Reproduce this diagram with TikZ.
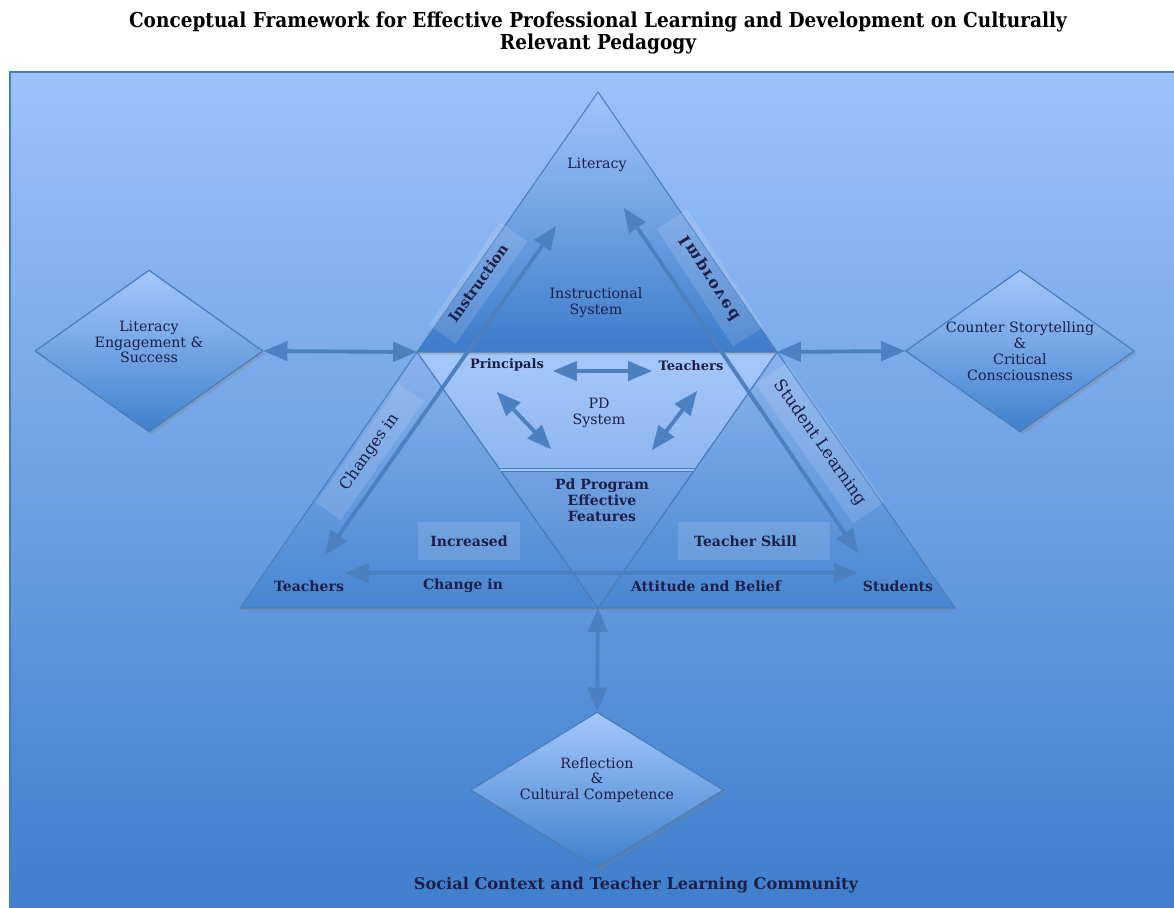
\documentclass[tikz,border=0pt]{standalone}
\usepackage{fontspec}
\setmainfont{DejaVu Serif}
\newfontfamily\condfont{DejaVu Serif Condensed}
\usepackage{tikz}
\usetikzlibrary{shapes.geometric}
\usetikzlibrary{arrows}
\usetikzlibrary{shadows}

\definecolor{bgtop}{HTML}{9CC2FA}
\definecolor{bgbot}{HTML}{3E7ECC}
\definecolor{edge}{HTML}{4A7EBB}
\definecolor{arr}{HTML}{4D80C0}
\definecolor{ink}{HTML}{1E1E46}
\definecolor{trtop}{HTML}{A0C5FB}
\definecolor{trbot}{HTML}{3D7CCA}
\definecolor{lotop}{HTML}{8AB3EE}
\definecolor{lobot}{HTML}{4886D1}
\definecolor{pdtop}{HTML}{A6C9FB}
\definecolor{pdbot}{HTML}{8DB5EF}
\definecolor{pgtop}{HTML}{72A1E2}
\definecolor{pgbot}{HTML}{4F89D3}
\definecolor{dmtop}{HTML}{A4C8FC}
\definecolor{dmbot}{HTML}{4080CC}

\tikzset{
  dmd/.style={diamond, draw=edge, line width=0.7pt, inner sep=0pt,
    top color=dmtop, bottom color=dmbot,
    drop shadow={opacity=0.3, shadow xshift=1.5pt, shadow yshift=-1.5pt}},
  txt/.style={font=\fontsize{8.1}{9}\selectfont, text=ink, align=center},
  lbl/.style={font=\bfseries\fontsize{8}{9}\selectfont, text=ink, align=center},
  banner/.style={fill=white, fill opacity=0.12, text opacity=1, text=ink, inner sep=0pt},
  link/.style={triangle 45-triangle 45, draw=arr, line width=2.2pt},
}

\begin{document}
\begin{tikzpicture}[x=0.02cm, y=-0.02cm]
\useasboundingbox (0,0) rectangle (1174,907);

%%% Title
\node[font=\condfont\bfseries\fontsize{11.7}{12}\selectfont, align=center] (title) at (598,33)
  {Conceptual Framework for Effective Professional Learning and Development on Culturally\\Relevant Pedagogy};

%%% Background
\draw[draw=edge, line width=0.6pt, top color=bgtop, bottom color=bgbot] (10,72) rectangle (1180,915);

%%% Triangle corners
\coordinate (apex) at (598,92);
\coordinate (tl) at (417,352);
\coordinate (tr) at (777,352);
\coordinate (bl) at (240,608);
\coordinate (bm) at (598,608);
\coordinate (br) at (955,608);
\coordinate (pl) at (500,470);
\coordinate (pr) at (694,470);

\draw[draw=edge, line width=0.6pt, top color=lotop, bottom color=lobot,
  drop shadow={opacity=0.3, shadow xshift=1pt, shadow yshift=-1.5pt}] (tl) -- (bl) -- (bm) -- cycle;
\draw[draw=edge, line width=0.6pt, top color=lotop, bottom color=lobot,
  drop shadow={opacity=0.3, shadow xshift=1pt, shadow yshift=-1.5pt}] (tr) -- (bm) -- (br) -- cycle;
\fill[top color=pdtop, bottom color=pdbot] (tl) -- (tr) -- (pr) -- (pl) -- cycle;
\fill[top color=pgtop, bottom color=pgbot] (pl) -- (pr) -- (bm) -- cycle;
\draw[edge, line width=0.6pt] (tl) -- (bm) -- (tr);
\draw[draw=edge, line width=0.6pt, top color=trtop, bottom color=trbot,
  drop shadow={opacity=0.35, shadow xshift=0.5pt, shadow yshift=-1.5pt}] (apex) -- (tl) -- (tr) -- cycle;
\draw[draw=edge, double=pdtop, double distance=1.2pt, line width=0.6pt] (pl) -- (pr);

%%% Banners along the sides
\node[banner, rotate=55, minimum width=2.5cm, minimum height=0.66cm,
  font=\bfseries\fontsize{8.3}{9}\selectfont] (instr) at (478,283) {Instruction};
\node[banner, rotate=-57, yscale=-1, minimum width=2.8cm, minimum height=0.72cm,
  font=\bfseries\fontsize{9}{9}\selectfont\addfontfeature{LetterSpace=12}] (impr) at (710,278) {Improved};
\node[banner, rotate=55, minimum width=2.9cm, minimum height=0.6cm,
  font=\fontsize{9}{9}\selectfont] (chg) at (370,452) {Changes in};
\node[banner, rotate=-55, minimum width=3.4cm, minimum height=0.76cm,
  font=\fontsize{9.5}{9.5}\selectfont] (stl) at (820,443) {Student Learning};
\node[banner, lbl, minimum width=2.04cm, minimum height=0.76cm] (incr) at (469,541) {Increased};
\node[banner, lbl, minimum width=3.04cm, minimum height=0.76cm] (tskill) at (754,541) {Teacher Skill\hspace{1.2em}};

%%% Labels
\node[txt] (lit) at (597,165) {Literacy};
\node[txt] (isys) at (596,303) {Instructional\\System};
\node[lbl, font=\bfseries\fontsize{7.4}{9}\selectfont] (prin) at (507,365) {Principals};
\node[lbl, font=\bfseries\fontsize{7.4}{9}\selectfont] (tchr) at (691,366) {Teachers};
\node[txt] (pdsys) at (599,413) {PD\\System};
\node[lbl, font=\bfseries\fontsize{8}{9.2}\selectfont] (pdprog) at (602,500) {Pd Program\\Effective\\Features};
\node[lbl] (tchs) at (309,586) {Teachers};
\node[lbl] (chgin) at (463,586) {Change in};
\node[lbl] (att) at (706,586) {Attitude and Belief};
\node[lbl] (stds) at (898,586) {Students};
\node[lbl, font=\bfseries\fontsize{9.2}{10}\selectfont] (social) at (636,885) {Social Context and Teacher Learning Community};

%%% Diamonds
\node[dmd, minimum width=4.56cm, minimum height=3.24cm,
  label={[txt, yshift=0.18cm]center:{Literacy\\Engagement \&\\Success}}] (eng) at (149,351) {};
\node[dmd, minimum width=4.58cm, minimum height=3.24cm,
  label={[txt]center:{Counter Storytelling\\\&\\Critical\\Consciousness}}] (cs) at (1020,351) {};
\node[dmd, minimum width=5.06cm, minimum height=3.12cm,
  label={[txt, yshift=0.2cm]center:{Reflection\\\&\\Cultural Competence}}] (refl) at (597,790) {};

%%% Arrow ends
\coordinate (insA) at (556,226);
\coordinate (chgA) at (325,555);
\coordinate (impA) at (624,208);
\coordinate (stuA) at (858,553);
\coordinate (tchA) at (345,573);
\coordinate (stdA) at (858,573);
\coordinate (p1) at (553,371);
\coordinate (p2) at (652,371);
\coordinate (p3) at (497,392);
\coordinate (p4) at (551,449);
\coordinate (p5) at (697,391);
\coordinate (p6) at (652,450);

%%% Arrows
\foreach \x/\y in {eng.east/tl, tr/cs.west, bm/refl.north, chgA/insA, impA/stuA, tchA/stdA, p1/p2, p3/p4, p5/p6}{
\draw[link] (\x) -- (\y);
}

\end{tikzpicture}
\end{document}
